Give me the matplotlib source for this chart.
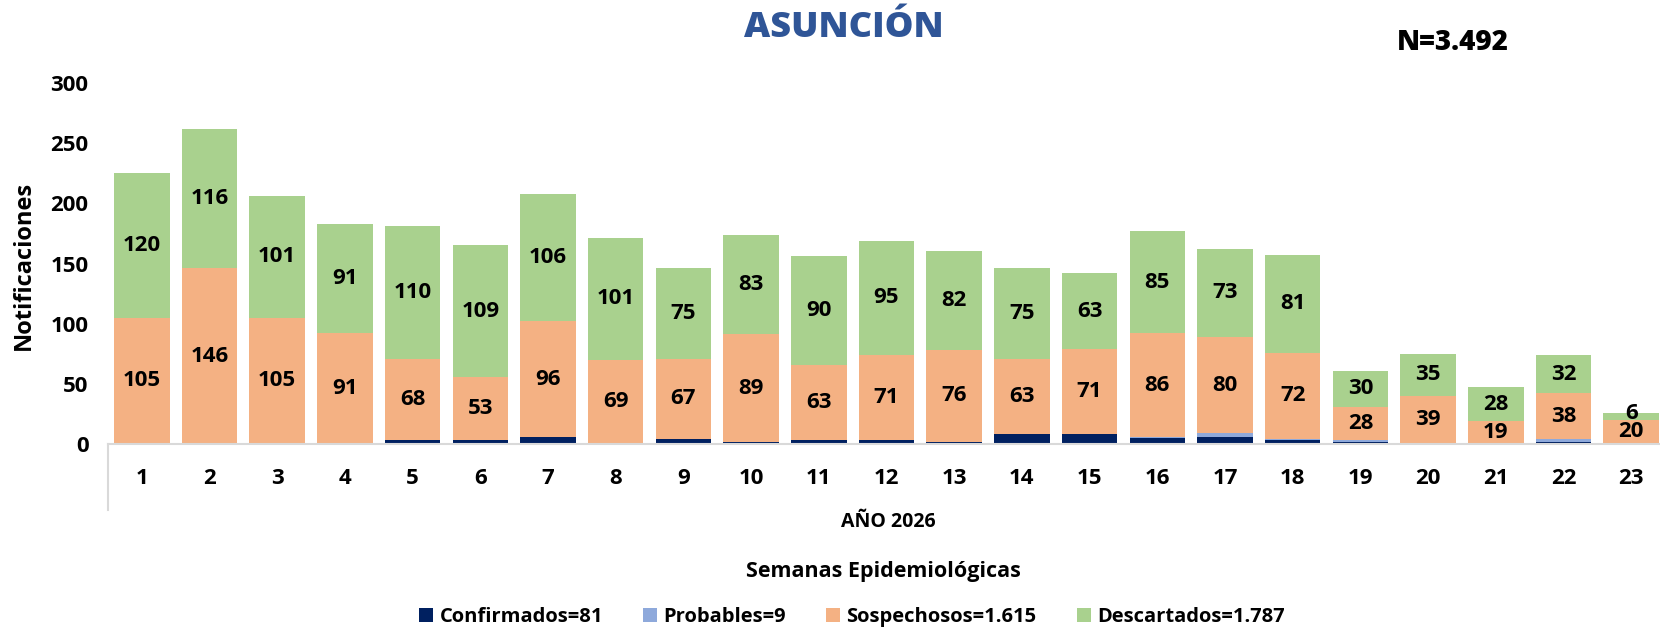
import matplotlib
matplotlib.use("Agg")
import matplotlib.pyplot as plt
from matplotlib.patches import Patch
from matplotlib.lines import Line2D
import numpy as np

plt.rcParams['font.family'] = ['Open Sans', 'DejaVu Sans']
plt.rcParams['font.weight'] = 'bold'

semanas = [str(i) for i in range(1, 24)]
confirmados = [0, 0, 0, 1, 3, 3, 6, 1, 4, 2, 3, 3, 2, 8, 8, 5, 6, 3, 2, 1, 0, 2, 0]
probables = [0, 0, 0, 0, 0, 0, 0, 0, 0, 0, 0, 0, 0, 0, 0, 1, 3, 1, 1, 0, 0, 2, 0]
sospechosos = [105, 146, 105, 91, 68, 53, 96, 69, 67, 89, 63, 71, 76, 63, 71, 86, 80, 72, 28, 39, 19, 38, 20]
descartados = [120, 116, 101, 91, 110, 109, 106, 101, 75, 83, 90, 95, 82, 75, 63, 85, 73, 81, 30, 35, 28, 32, 6]

leyenda = ["Confirmados=81", "Probables=9", "Sospechosos=1.615", "Descartados=1.787"]
colores = ["#002060", "#8EA9DB", "#F4B183", "#A9D18E"]

W, H = 1660, 631
fig = plt.figure(figsize=(W / 100, H / 100), dpi=100)
fig.patch.set_facecolor("white")

left_px, right_px, top_px, base_px = 108, 1665, 83, 444
ax = fig.add_axes([left_px / W, (H - base_px) / H, (right_px - left_px) / W, (base_px - top_px) / H])

x = np.arange(len(semanas))
bw = 0.82
series = [confirmados, probables, sospechosos, descartados]
bottom = np.zeros(len(semanas))
bars = []
for vals, col in zip(series, colores):
    v = np.array(vals, dtype=float)
    ax.bar(x, v, bw, bottom=bottom, color=col, edgecolor='none', zorder=2)
    bars.append((v, bottom.copy()))
    bottom = bottom + v

for k, (v, bot) in enumerate(bars[2:]):
    for xi, vi, bi in zip(x, v, bot):
        if vi > 0:
            yy = bi + vi / 2
            if vi < 12:
                yy += 2.5 if k == 1 else -1.5
            ax.text(xi, yy, f"{int(vi)}", ha='center', va='center',
                    fontsize=16, fontweight='bold', color='black', zorder=3)

ax.set_xlim(-0.5, len(semanas) - 0.5)
ax.set_ylim(0, 300)
ax.set_yticks([0, 50, 100, 150, 200, 250, 300])
ax.set_xticks(x)
ax.set_xticklabels(semanas)
ax.tick_params(axis='y', length=0, pad=14, labelsize=16)
ax.tick_params(axis='x', length=0, pad=17, labelsize=16)
for lab in ax.get_xticklabels() + ax.get_yticklabels():
    lab.set_fontweight('bold')
for s in ['top', 'right', 'left']:
    ax.spines[s].set_visible(False)
ax.spines['bottom'].set_color('#D9D9D9')
ax.spines['bottom'].set_linewidth(1.5)
ax.set_facecolor('none')

ax.set_ylabel("Notificaciones", fontsize=17, fontweight='bold')
ax.yaxis.set_label_coords(-(left_px - 36) / (right_px - left_px), (base_px - 265) / (base_px - top_px))

fig.add_artist(Line2D([left_px / W, left_px / W], [(H - base_px) / H, (H - 510) / H],
                      color='#D9D9D9', lw=1.5, transform=fig.transFigure))

fig.text(888 / W, 1 - 522 / H, "AÑO 2026", ha='center', va='center', fontsize=14, fontweight='bold')
fig.text(883 / W, 1 - 572 / H, "Semanas Epidemiológicas", ha='center', va='center', fontsize=15.5, fontweight='bold')
fig.text(844 / W, 1 - 28 / H, "ASUNCIÓN", ha='center', va='center', fontsize=26, fontweight='heavy', color='#2F5597')
fig.text(1453 / W, 1 - 42 / H, "N=3.492", ha='center', va='center', fontsize=20, fontweight='heavy', color='black')

handles = [Patch(facecolor=c, edgecolor='none') for c in colores]
leg = fig.legend(handles, leyenda, loc='center', bbox_to_anchor=(852 / W, 1 - 617 / H), ncol=4,
                 frameon=False, fontsize=14.5, handlelength=0.7, handleheight=0.7,
                 handletextpad=0.3, columnspacing=2.0, borderpad=0)
for t in leg.get_texts():
    t.set_fontweight('bold')

fig.savefig("out.png", dpi=100, facecolor='white')
